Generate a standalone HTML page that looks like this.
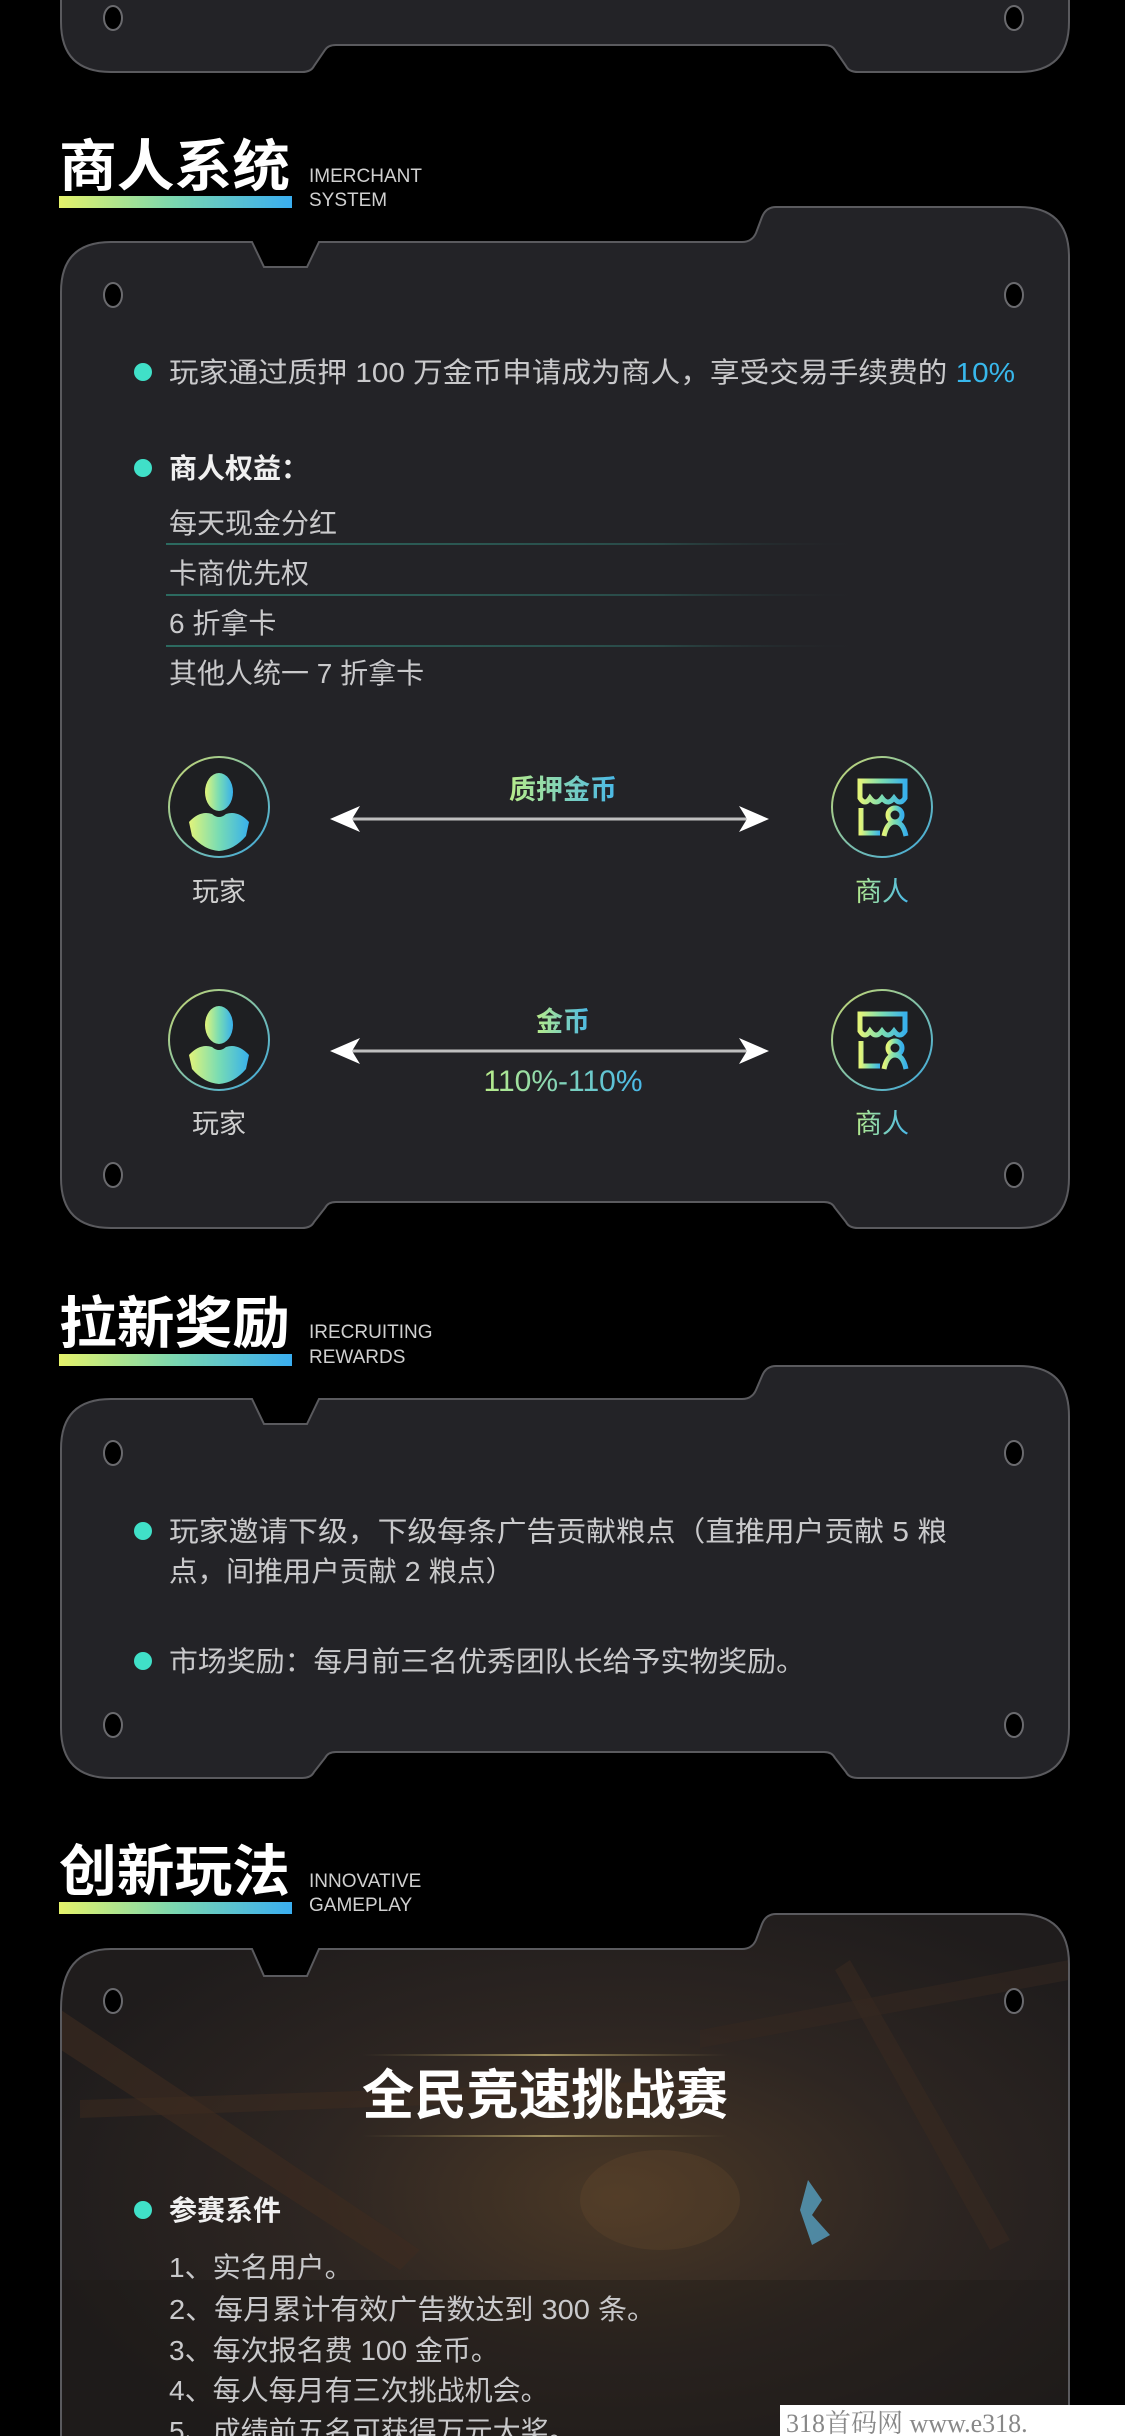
<!DOCTYPE html>
<html><head><meta charset="utf-8">
<style>
html,body{margin:0;padding:0;background:#000;}
svg{display:block;}
text{font-family:"Liberation Sans","Noto Sans CJK SC",sans-serif;}
.h{font-size:56px;font-weight:bold;fill:#fff;}
.en{font-family:"Liberation Sans Narrow","Liberation Sans",sans-serif;font-size:19px;fill:#d0d0d0;}
.b{font-size:28px;fill:#c9c9cb;}
.bb{font-size:28px;fill:#f0f0f0;font-weight:bold;}
.lab{font-size:27px;fill:#cfcfcf;}
</style></head>
<body>
<svg width="1125" height="2436" viewBox="0 0 1125 2436" xmlns="http://www.w3.org/2000/svg">
<defs>
<linearGradient id="bar" x1="0" x2="1" y1="0" y2="0">
<stop offset="0" stop-color="#e4f26a"/><stop offset="0.5" stop-color="#7ad6b0"/><stop offset="1" stop-color="#3aaef0"/></linearGradient>
<linearGradient id="ic" x1="0" x2="1" y1="0" y2="0">
<stop offset="0" stop-color="#e2f47a"/><stop offset="0.5" stop-color="#78dcb4"/><stop offset="1" stop-color="#38b0ec"/></linearGradient>
<linearGradient id="ring" x1="0" x2="1" y1="0" y2="1">
<stop offset="0" stop-color="#c8d870"/><stop offset="1" stop-color="#3aa8e0"/></linearGradient>
<linearGradient id="tg" x1="0" x2="1" y1="0" y2="0">
<stop offset="0" stop-color="#b8ec8a"/><stop offset="1" stop-color="#48b8e8"/></linearGradient>
<linearGradient id="ln" x1="0" x2="1" y1="0" y2="0">
<stop offset="0" stop-color="#2c6a60"/><stop offset="0.7" stop-color="#2a4a48"/><stop offset="1" stop-color="#232327" stop-opacity="0"/></linearGradient>
<radialGradient id="glow" cx="0.55" cy="0.55" r="0.6">
<stop offset="0" stop-color="#4a3826"/><stop offset="0.5" stop-color="#2e2622"/><stop offset="1" stop-color="#1f1c1c"/></radialGradient>
<linearGradient id="tl" x1="0" x2="1"><stop offset="0" stop-color="#7a6a40" stop-opacity="0"/><stop offset="0.5" stop-color="#a09060"/><stop offset="1" stop-color="#7a6a40" stop-opacity="0"/></linearGradient>
<clipPath id="c4"><path d="M61,2009 Q61,1949 111,1949 L252,1949 L264,1976 L307,1976 L319,1949 L742,1949 Q752,1949 756,1940 L762,1924 Q766,1914 776,1914 L1019,1914 Q1069,1914 1069,1964 L1069,2500 L61,2500 Z"/></clipPath>
</defs>

<path d="M61,-100 L1069,-100 L1069,22 Q1069,72 1019,72 L858,72 Q849,72 846,66 L835,50 Q832,45 824,45 L336,45 Q328,45 325,50 L314,66 Q311,72 302,72 L111,72 Q61,72 61,22 Z" fill="#232327" stroke="#5a5a5e" stroke-width="2"/>
<ellipse cx="113" cy="18" rx="9" ry="12" fill="#000" stroke="#6a6a6e" stroke-width="2"/>
<ellipse cx="1014" cy="18" rx="9" ry="12" fill="#000" stroke="#6a6a6e" stroke-width="2"/>

<text class="h" x="59" y="186" textLength="231" lengthAdjust="spacingAndGlyphs">商人系统</text>
<rect x="59" y="196" width="233" height="12" fill="url(#bar)"/>
<text class="en" x="309" y="182">IMERCHANT</text>
<text class="en" x="309" y="206">SYSTEM</text>

<path d="M61,292 Q61,242 111,242 L252,242 L264,267 L307,267 L319,242 L742,242 Q752,242 756,233 L762,217 Q766,207 776,207 L1019,207 Q1069,207 1069,257 L1069,1178 Q1069,1228 1019,1228 L858,1228 Q849,1228 846,1222 L835,1208 Q832,1202 824,1202 L336,1202 Q328,1202 325,1208 L314,1222 Q311,1228 302,1228 L111,1228 Q61,1228 61,1178 Z" fill="#232327" stroke="#5a5a5e" stroke-width="2"/>
<ellipse cx="113" cy="295" rx="9" ry="12" fill="#000" stroke="#6a6a6e" stroke-width="2"/>
<ellipse cx="1014" cy="295" rx="9" ry="12" fill="#000" stroke="#6a6a6e" stroke-width="2"/>
<ellipse cx="113" cy="1175" rx="9" ry="12" fill="#000" stroke="#6a6a6e" stroke-width="2"/>
<ellipse cx="1014" cy="1175" rx="9" ry="12" fill="#000" stroke="#6a6a6e" stroke-width="2"/>

<circle cx="143" cy="372" r="9" fill="#40e0c8"/>
<text class="b" x="169" y="382" textLength="846" lengthAdjust="spacingAndGlyphs">玩家通过质押 100 万金币申请成为商人，享受交易手续费的 <tspan fill="#38b8ec">10%</tspan></text>
<circle cx="143" cy="468" r="9" fill="#40e0c8"/>
<text class="bb" x="169" y="478">商人权益：</text>
<text class="b" x="169" y="533">每天现金分红</text>
<rect x="166" y="543" width="700" height="2" fill="url(#ln)"/>
<text class="b" x="169" y="583">卡商优先权</text>
<rect x="166" y="594" width="700" height="2" fill="url(#ln)"/>
<text class="b" x="169" y="633">6 折拿卡</text>
<rect x="166" y="645" width="700" height="2" fill="url(#ln)"/>
<text class="b" x="169" y="683">其他人统一 7 折拿卡</text>

<g id="p1">
<circle cx="219" cy="807" r="50" fill="#1e1f22" stroke="url(#ring)" stroke-width="2"/>
<ellipse cx="219" cy="792" rx="14" ry="19" fill="url(#ic)"/>
<path d="M189,822 Q200,810 212,814 Q219,820 226,814 Q238,810 249,822 L246,836 Q234,850 219,851 Q204,850 192,836 Z" fill="url(#ic)"/>
</g>
<g id="m1">
<circle cx="882" cy="807" r="50" fill="#1e1f22" stroke="url(#ring)" stroke-width="2"/>
<path d="M860,781 L905,781 L905,798 Q900,806 894,798 Q888,806 882,798 Q876,806 870,798 Q865,806 860,798 Z" fill="none" stroke="url(#ic)" stroke-width="5"/>
<path d="M861,808 L861,833 L880,833" fill="none" stroke="url(#ic)" stroke-width="5"/>
<circle cx="895" cy="815" r="7" fill="none" stroke="url(#ic)" stroke-width="5"/>
<path d="M884,836 Q887,822 895,822 Q903,822 906,836" fill="none" stroke="url(#ic)" stroke-width="5"/>
</g>
<use href="#p1" y="233"/>
<use href="#m1" y="233"/>

<text class="lab" x="219" y="901" text-anchor="middle">玩家</text>
<text class="lab" x="882" y="901" text-anchor="middle" style="fill:url(#tg)">商人</text>
<text class="lab" x="219" y="1133" text-anchor="middle">玩家</text>
<text class="lab" x="882" y="1133" text-anchor="middle" style="fill:url(#tg)">商人</text>

<text x="563" y="799" text-anchor="middle" style="font-size:27px;font-weight:bold;fill:url(#tg)">质押金币</text>
<line x1="345" y1="819" x2="755" y2="819" stroke="#bfbfbf" stroke-width="3"/>
<path d="M330,819 L360,806 L352,819 L360,832 Z" fill="#fff"/>
<path d="M769,819 L739,806 L747,819 L739,832 Z" fill="#fff"/>

<text x="563" y="1031" text-anchor="middle" style="font-size:27px;font-weight:bold;fill:url(#tg)">金币</text>
<line x1="345" y1="1051" x2="755" y2="1051" stroke="#bfbfbf" stroke-width="3"/>
<path d="M330,1051 L360,1038 L352,1051 L360,1064 Z" fill="#fff"/>
<path d="M769,1051 L739,1038 L747,1051 L739,1064 Z" fill="#fff"/>
<text x="563" y="1091" text-anchor="middle" style="font-size:30px;fill:url(#tg)">110%-110%</text>

<text class="h" x="59" y="1343" textLength="231" lengthAdjust="spacingAndGlyphs">拉新奖励</text>
<rect x="59" y="1354" width="233" height="12" fill="url(#bar)"/>
<text class="en" x="309" y="1338">IRECRUITING</text>
<text class="en" x="309" y="1363">REWARDS</text>

<path d="M61,1449 Q61,1399 111,1399 L252,1399 L264,1424 L307,1424 L319,1399 L742,1399 Q752,1399 756,1390 L762,1376 Q766,1366 776,1366 L1019,1366 Q1069,1366 1069,1416 L1069,1728 Q1069,1778 1019,1778 L858,1778 Q849,1778 846,1772 L835,1758 Q832,1752 824,1752 L336,1752 Q328,1752 325,1758 L314,1772 Q311,1778 302,1778 L111,1778 Q61,1778 61,1728 Z" fill="#232327" stroke="#5a5a5e" stroke-width="2"/>
<ellipse cx="113" cy="1453" rx="9" ry="12" fill="#000" stroke="#6a6a6e" stroke-width="2"/>
<ellipse cx="1014" cy="1453" rx="9" ry="12" fill="#000" stroke="#6a6a6e" stroke-width="2"/>
<ellipse cx="113" cy="1725" rx="9" ry="12" fill="#000" stroke="#6a6a6e" stroke-width="2"/>
<ellipse cx="1014" cy="1725" rx="9" ry="12" fill="#000" stroke="#6a6a6e" stroke-width="2"/>

<circle cx="143" cy="1531" r="9" fill="#40e0c8"/>
<text class="b" x="169" y="1541" textLength="778" lengthAdjust="spacingAndGlyphs">玩家邀请下级，下级每条广告贡献粮点（直推用户贡献 5 粮</text>
<text class="b" x="169" y="1581" textLength="345" lengthAdjust="spacingAndGlyphs">点，间推用户贡献 2 粮点）</text>
<circle cx="143" cy="1661" r="9" fill="#40e0c8"/>
<text class="b" x="169" y="1671" textLength="636" lengthAdjust="spacingAndGlyphs">市场奖励：每月前三名优秀团队长给予实物奖励。</text>

<text class="h" x="59" y="1891" textLength="231" lengthAdjust="spacingAndGlyphs">创新玩法</text>
<rect x="59" y="1902" width="233" height="12" fill="url(#bar)"/>
<text class="en" x="309" y="1887">INNOVATIVE</text>
<text class="en" x="309" y="1911">GAMEPLAY</text>

<g clip-path="url(#c4)">
<rect x="61" y="1900" width="1010" height="540" fill="url(#glow)"/>
<path d="M61,2010 L420,2250 L400,2270 L61,2050 Z" fill="#3e2c20" opacity="0.6"/>
<path d="M80,2100 L700,2080 L700,2095 L80,2118 Z" fill="#3e2c20" opacity="0.5"/>
<path d="M850,1960 L1010,2240 L990,2250 L835,1970 Z" fill="#3a2a20" opacity="0.5"/>
<path d="M700,2030 L1069,1960 L1069,1980 L700,2048 Z" fill="#352820" opacity="0.5"/>
<ellipse cx="660" cy="2200" rx="80" ry="50" fill="#7a5530" opacity="0.2"/>
<path d="M808,2180 L822,2200 L812,2215 L830,2235 L812,2245 L800,2210 Z" fill="#5ab0d8" opacity="0.7"/>
<rect x="61" y="2280" width="1010" height="160" fill="#1e1a18" opacity="0.35"/>
</g>
<path d="M61,2009 Q61,1949 111,1949 L252,1949 L264,1976 L307,1976 L319,1949 L742,1949 Q752,1949 756,1940 L762,1924 Q766,1914 776,1914 L1019,1914 Q1069,1914 1069,1964 L1069,2500 M61,2500 L61,2009" fill="none" stroke="#5a5a5e" stroke-width="2"/>
<ellipse cx="113" cy="2001" rx="9" ry="12" fill="#000" stroke="#6a6a6e" stroke-width="2"/>
<ellipse cx="1014" cy="2001" rx="9" ry="12" fill="#000" stroke="#6a6a6e" stroke-width="2"/>

<rect x="362" y="2054" width="366" height="2" fill="url(#tl)"/>
<rect x="362" y="2135" width="366" height="2" fill="url(#tl)"/>
<text x="545" y="2114" text-anchor="middle" textLength="366" lengthAdjust="spacingAndGlyphs" style="font-size:54px;font-weight:bold;fill:#fff;">全民竞速挑战赛</text>

<circle cx="143" cy="2210" r="9" fill="#40e0c8"/>
<text class="bb" x="169" y="2220">参赛系件</text>
<text class="b" x="169" y="2277">1、实名用户。</text>
<text class="b" x="169" y="2319" textLength="487" lengthAdjust="spacingAndGlyphs">2、每月累计有效广告数达到 300 条。</text>
<text class="b" x="169" y="2360">3、每次报名费 100 金币。</text>
<text class="b" x="169" y="2400">4、每人每月有三次挑战机会。</text>
<text class="b" x="169" y="2441">5、成绩前五名可获得万元大奖。</text>

<rect x="780" y="2405" width="345" height="31" fill="#fff"/>
<text x="786" y="2432" style="font-family:'Liberation Serif','Noto Serif CJK SC',serif;font-size:26px;fill:#888;">318首码网  www.e318.</text>
</svg>
</body></html>
